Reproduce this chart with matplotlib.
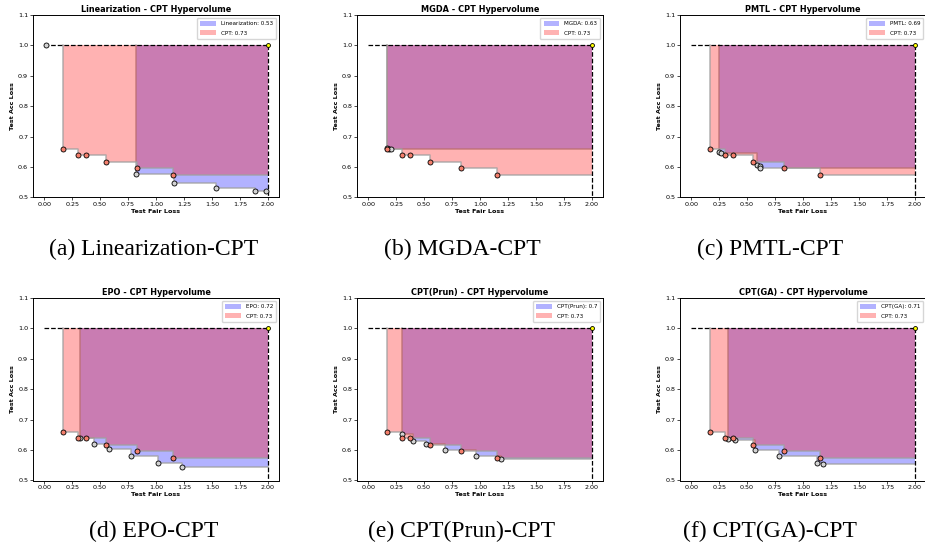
import matplotlib
matplotlib.use("Agg")
import matplotlib.pyplot as plt
from matplotlib.patches import Patch

# ---------------- data ----------------
REF = (2.0, 1.0)

cpt_x = [0.17, 0.30, 0.37, 0.55, 0.83, 1.15]
cpt_y = [0.660, 0.640, 0.641, 0.618, 0.596, 0.573]
cpt_hv = 0.73

lin_x = [0.02, 0.82, 1.16, 1.54, 1.886, 1.98]
lin_y = [1.000, 0.577, 0.548, 0.530, 0.523, 0.522]

mgda_x = [0.17, 0.188, 0.203]
mgda_y = [0.662, 0.659, 0.658]

pmtl_x = [0.248, 0.27, 0.586, 0.613, 0.616]
pmtl_y = [0.648, 0.645, 0.608, 0.604, 0.598]

epo_x = [0.322, 0.444, 0.581, 0.772, 1.022, 1.23]
epo_y = [0.641, 0.619, 0.604, 0.581, 0.559, 0.546]

prun_x = [0.301, 0.402, 0.518, 0.688, 0.968, 1.189]
prun_y = [0.652, 0.631, 0.620, 0.601, 0.581, 0.570]

ga_x = [0.329, 0.389, 0.568, 0.786, 1.124, 1.178]
ga_y = [0.638, 0.632, 0.600, 0.580, 0.559, 0.554]

methods = ["Linearization", "MGDA", "PMTL", "EPO", "CPT(Prun)", "CPT(GA)"]
method_hv = ["0.53", "0.63", "0.69", "0.72", "0.7", "0.71"]
method_x = [lin_x, mgda_x, pmtl_x, epo_x, prun_x, ga_x]
method_y = [lin_y, mgda_y, pmtl_y, epo_y, prun_y, ga_y]
captions = ["(a) Linearization-CPT", "(b) MGDA-CPT", "(c) PMTL-CPT",
            "(d) EPO-CPT", "(e) CPT(Prun)-CPT", "(f) CPT(GA)-CPT"]

xticks = [0.0, 0.25, 0.5, 0.75, 1.0, 1.25, 1.5, 1.75, 2.0]
yticks = [0.5, 0.6, 0.7, 0.8, 0.9, 1.0, 1.1]


def staircase(xs, ys):
    """Pareto staircase polygon (post-step) up to the reference point."""
    pts = sorted(zip(xs, ys))
    sx, sy = [], []
    cur = REF[1]
    for x, y in pts:
        if y < cur:
            sx.append(x)
            sy.append(y)
            cur = y
    px = [sx[0], sx[0]]
    py = [REF[1], sy[0]]
    for i in range(1, len(sx)):
        px += [sx[i], sx[i]]
        py += [sy[i - 1], sy[i]]
    px += [REF[0]]
    py += [sy[-1]]
    return px, py


W, H = 925, 547
fig = plt.figure(figsize=(W / 100, H / 100), dpi=100)

lefts = [33, 357, 680]
tops = [15, 298]
aw, ah = 246, 182.5
cap_cx = [154, 462, 770]
cap_cy = [249, 531]

for i in range(6):
    r, c = divmod(i, 3)
    ax = fig.add_axes([lefts[c] / W, (H - tops[r] - ah) / H, aw / W, ah / H])

    mx, my = method_x[i], method_y[i]
    # method fill (blue)
    bx, by = staircase(mx, my)
    ax.fill_between(bx, by, REF[1], color="blue", alpha=0.3, linewidth=0, zorder=1)
    ax.plot(bx, by, color="#a0a0a0", lw=1.1, alpha=0.8, zorder=1.5)
    # CPT fill (red)
    rx, ry = staircase(cpt_x, cpt_y)
    ax.fill_between(rx, ry, REF[1], color="red", alpha=0.3, linewidth=0, zorder=2)
    ax.plot(rx, ry, color="#a0a0a0", lw=1.1, alpha=0.8, zorder=2.5)

    # reference lines
    ax.plot([0.0, REF[0]], [REF[1], REF[1]], "k--", lw=0.9, zorder=3)
    ax.plot([REF[0], REF[0]], [REF[1], 0.5], "k--", lw=0.9, zorder=3)

    # points
    ax.scatter(mx, my, s=13, c="#d3d3d3", edgecolors="black", linewidths=0.6, zorder=4)
    ax.scatter(cpt_x, cpt_y, s=13, c="#f47f6c", edgecolors="black", linewidths=0.6, zorder=4)
    ax.scatter([REF[0]], [REF[1]], s=8, c="yellow", edgecolors="black", linewidths=0.6, zorder=5)

    ax.set_xlim(-0.1, 2.1)
    ax.set_ylim(0.5, 1.1)
    ax.set_xticks(xticks)
    ax.set_xticklabels([f"{t:.2f}" for t in xticks])
    ax.set_yticks(yticks)
    ax.set_yticklabels([f"{t:.1f}" for t in yticks])
    ax.tick_params(labelsize=4.6, length=2, width=0.5, pad=1.5)
    for s in ax.spines.values():
        s.set_linewidth(0.7)
    ax.set_title(f"{methods[i]} - CPT Hypervolume", fontsize=5.9, fontweight="bold", pad=2.5)
    ax.set_xlabel("Test Fair Loss", fontsize=4.6, fontweight="bold", labelpad=1.5)
    ax.set_ylabel("Test Acc Loss", fontsize=4.6, fontweight="bold", labelpad=2)

    handles = [Patch(facecolor="blue", alpha=0.3, label=f"{methods[i]}: {method_hv[i]}"),
               Patch(facecolor="red", alpha=0.3, label=f"CPT: {cpt_hv}")]
    ax.legend(handles=handles, loc="upper right", fontsize=4.1, framealpha=0.8,
              handlelength=2.8, handleheight=1.0, borderpad=0.6, labelspacing=0.65,
              borderaxespad=0.45, fancybox=True, edgecolor="#cccccc")

    fig.text(cap_cx[c] / W, 1 - cap_cy[r] / H, captions[i], fontsize=17,
             family="Liberation Serif", ha="center", va="center")

fig.savefig("out.png", dpi=100)
